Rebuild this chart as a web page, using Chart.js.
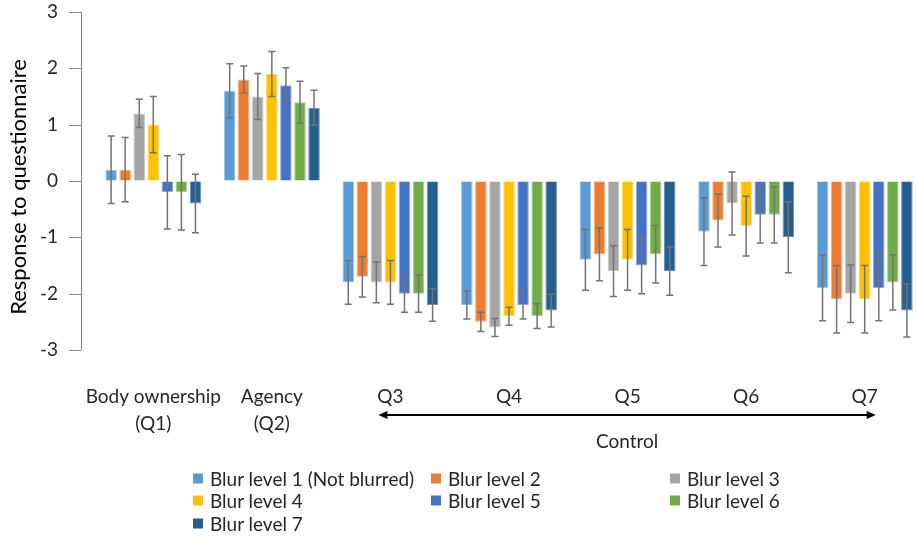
<!DOCTYPE html>
<html>
<head>
<meta charset="utf-8">
<script src="https://cdn.jsdelivr.net/npm/chart.js@4.4.1/dist/chart.umd.min.js"></script>
<style>
  body { margin: 0; background: #fff; }
  #wrap { position: relative; width: 916px; height: 539px; overflow: hidden; }
  #legend { position: absolute; left: 0; top: 0; font-family: Lato, sans-serif; font-size: 19px; color: #262626; }
  .item { position: absolute; display: flex; align-items: center; white-space: nowrap; transform: translateY(-50%); }
  .box { width: 10px; height: 10px; margin-right: 7px; }
</style>
</head>
<body>
<div id="wrap">
  <canvas id="chart-1" width="924" height="539"></canvas>
  <div id="legend"></div>
</div>
<script>
// categories on the x axis
const categories = [["Body ownership", "(Q1)"], ["Agency", "(Q2)"], "Q3", "Q4", "Q5", "Q6", "Q7"];
const seriesNames = ["Blur level 1 (Not blurred)", "Blur level 2", "Blur level 3", "Blur level 4", "Blur level 5", "Blur level 6", "Blur level 7"];
const colors = ["#5B9BD5", "#ED7D31", "#A5A5A5", "#FFC000", "#4472C4", "#70AD47", "#255E91"];
const edges = ["#9DC3E6", "#F4B183", "#C9C9C9", "#FFD966", "#8FAADC", "#A9D18E", "#6A8FB8"];

// mean response per blur level
const blur1 = [0.2, 1.6, -1.8, -2.2, -1.4, -0.9, -1.9];
const blur2 = [0.2, 1.8, -1.7, -2.5, -1.3, -0.7, -2.1];
const blur3 = [1.2, 1.5, -1.8, -2.6, -1.6, -0.4, -2.0];
const blur4 = [1.0, 1.9, -1.8, -2.4, -1.4, -0.8, -2.1];
const blur5 = [-0.2, 1.7, -2.0, -2.2, -1.5, -0.6, -1.9];
const blur6 = [-0.2, 1.4, -2.0, -2.4, -1.3, -0.6, -1.8];
const blur7 = [-0.4, 1.3, -2.2, -2.3, -1.6, -1.0, -2.3];

// error bar half lengths
const err1 = [0.6, 0.48, 0.39, 0.25, 0.54, 0.6, 0.58];
const err2 = [0.57, 0.24, 0.36, 0.17, 0.47, 0.47, 0.6];
const err3 = [0.25, 0.41, 0.36, 0.16, 0.45, 0.56, 0.51];
const err4 = [0.5, 0.4, 0.39, 0.16, 0.54, 0.53, 0.6];
const err5 = [0.65, 0.31, 0.33, 0.25, 0.5, 0.5, 0.58];
const err6 = [0.67, 0.37, 0.33, 0.22, 0.51, 0.5, 0.49];
const err7 = [0.52, 0.31, 0.29, 0.29, 0.43, 0.63, 0.47];

const yTicks = [-3, -2, -1, 0, 1, 2, 3];

const values = [blur1, blur2, blur3, blur4, blur5, blur6, blur7];
const errors = [err1, err2, err3, err4, err5, err6, err7];

const errorBars = {
  id: 'errorBars',
  afterDatasetsDraw(chart) {
    const ctx = chart.ctx, y = chart.scales.y;
    ctx.save();
    ctx.strokeStyle = '#737373';
    ctx.lineWidth = 1.5;
    chart.data.datasets.forEach((ds, i) => {
      chart.getDatasetMeta(i).data.forEach((bar, j) => {
        const v = ds.data[j], e = errors[i][j];
        const top = y.getPixelForValue(v + e), bot = y.getPixelForValue(v - e);
        ctx.beginPath();
        ctx.moveTo(bar.x, top); ctx.lineTo(bar.x, bot);
        ctx.moveTo(bar.x - 3.5, top); ctx.lineTo(bar.x + 3.5, top);
        ctx.moveTo(bar.x - 3.5, bot); ctx.lineTo(bar.x + 3.5, bot);
        ctx.stroke();
      });
    });
    ctx.restore();
  }
};

// value axis line sits a little left of the first category, title left of it
const valueAxis = {
  id: 'valueAxis',
  afterDraw(chart) {
    const ctx = chart.ctx, y = chart.scales.y;
    const ax = chart.chartArea.left - 13;
    ctx.save();
    ctx.strokeStyle = '#868686';
    ctx.lineWidth = 1;
    ctx.beginPath();
    ctx.moveTo(ax + 0.5, y.getPixelForValue(3));
    ctx.lineTo(ax + 0.5, y.getPixelForValue(-3));
    yTicks.forEach(t => {
      const py = Math.round(y.getPixelForValue(t)) + 0.5;
      ctx.moveTo(ax - 12, py); ctx.lineTo(ax + 0.5, py);
    });
    ctx.stroke();
    ctx.translate(19, 187);
    ctx.rotate(-Math.PI / 2);
    ctx.font = '22px Lato';
    ctx.fillStyle = '#000';
    ctx.textAlign = 'center';
    ctx.textBaseline = 'middle';
    ctx.fillText('Response to questionnaire', 0, 0);
    ctx.restore();
  }
};

const controlArrow = {
  id: 'controlArrow',
  afterDraw(chart) {
    const ctx = chart.ctx, x = chart.scales.x;
    const x0 = x.getPixelForValue(2) - 12, x1 = x.getPixelForValue(6) + 11;
    const ay = 415;
    ctx.save();
    ctx.strokeStyle = '#000';
    ctx.fillStyle = '#000';
    ctx.lineWidth = 1.8;
    ctx.beginPath();
    ctx.moveTo(x0 + 6, ay); ctx.lineTo(x1 - 6, ay);
    ctx.stroke();
    ctx.beginPath();
    ctx.moveTo(x0, ay); ctx.lineTo(x0 + 9, ay - 4); ctx.lineTo(x0 + 9, ay + 4); ctx.closePath();
    ctx.moveTo(x1, ay); ctx.lineTo(x1 - 9, ay - 4); ctx.lineTo(x1 - 9, ay + 4); ctx.closePath();
    ctx.fill();
    ctx.font = '19px Lato';
    ctx.fillStyle = '#262626';
    ctx.textAlign = 'center';
    ctx.textBaseline = 'middle';
    ctx.fillText('Control', (x0 + x1) / 2, 442);
    ctx.restore();
  }
};

const ctx = document.getElementById('chart-1').getContext('2d');
const chart_1 = new Chart(ctx, {
  type: 'bar',
  data: {
    labels: categories,
    datasets: values.map((v, i) => ({
      label: seriesNames[i],
      data: v,
      backgroundColor: colors[i],
      borderColor: edges[i],
      borderWidth: 1,
      categoryPercentage: 0.83,
      barPercentage: 0.82
    }))
  },
  options: {
    responsive: false,
    animation: false,
    layout: { padding: { top: 12, right: 0, bottom: 0, left: 0 } },
    plugins: { legend: { display: false }, tooltip: { enabled: false } },
    scales: {
      x: {
        grid: { display: false },
        border: { display: false },
        ticks: { padding: 26, color: '#262626', font: { family: 'Lato', size: 19, lineHeight: 1.4 }, maxRotation: 0, autoSkip: false },
        afterFit: s => { s.height = 539 - 350; }
      },
      y: {
        min: -3, max: 3,
        grid: { display: true, drawOnChartArea: false, drawTicks: true, tickLength: 36, color: 'transparent' },
        border: { display: false },
        ticks: { stepSize: 1, padding: 0, color: '#262626', font: { family: 'Lato', size: 19 } },
        afterFit: s => { s.width = 94; }
      }
    }
  },
  plugins: [errorBars, valueAxis, controlArrow]
});

// legend laid out in three columns like the original
const legend = document.getElementById('legend');
const colX = [193, 431, 670], rowY = [478, 500, 523];
seriesNames.forEach((name, i) => {
  const item = document.createElement('div');
  item.className = 'item';
  item.style.left = colX[i % 3] + 'px';
  item.style.top = rowY[Math.floor(i / 3)] + 'px';
  item.innerHTML = '<span class="box" style="background:' + colors[i] + '"></span>' + name;
  legend.appendChild(item);
});
</script>
</body>
</html>
